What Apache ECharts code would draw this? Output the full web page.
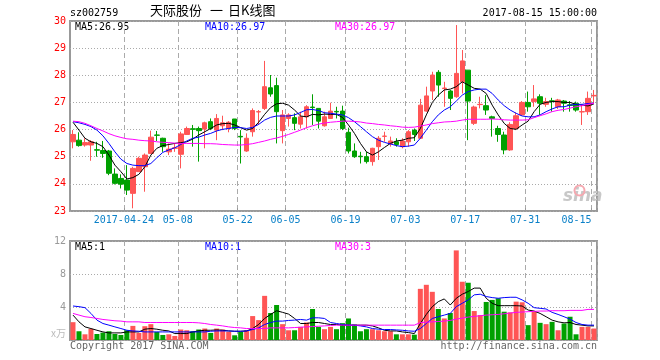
<!DOCTYPE html>
<html><head><meta charset="utf-8">
<script src="https://cdn.jsdelivr.net/npm/echarts@6/dist/echarts.min.js"></script>
<style>html,body{margin:0;padding:0;background:#fff}#c{width:660px;height:360px}</style>
</head><body><div id="c"></div>
<script>
const dates = ['2017-04-11','2017-04-12','2017-04-13','2017-04-14','2017-04-17','2017-04-18','2017-04-19','2017-04-20','2017-04-21','2017-04-24',
'2017-04-25','2017-04-26','2017-04-27','2017-04-28','2017-05-02','2017-05-03','2017-05-04','2017-05-05','2017-05-08','2017-05-09',
'2017-05-10','2017-05-11','2017-05-12','2017-05-15','2017-05-16','2017-05-17','2017-05-18','2017-05-19','2017-05-22','2017-05-23',
'2017-05-24','2017-05-25','2017-05-26','2017-05-31','2017-06-01','2017-06-02','2017-06-05','2017-06-06','2017-06-07','2017-06-08',
'2017-06-09','2017-06-12','2017-06-13','2017-06-14','2017-06-15','2017-06-16','2017-06-19','2017-06-20','2017-06-21','2017-06-22',
'2017-06-23','2017-06-26','2017-06-27','2017-06-28','2017-06-29','2017-06-30','2017-07-03','2017-07-04','2017-07-05','2017-07-06',
'2017-07-07','2017-07-10','2017-07-11','2017-07-12','2017-07-13','2017-07-14','2017-07-17','2017-07-18','2017-07-19','2017-07-20',
'2017-07-21','2017-07-24','2017-07-25','2017-07-26','2017-07-27','2017-07-28','2017-07-31','2017-08-01','2017-08-02','2017-08-03',
'2017-08-04','2017-08-07','2017-08-08','2017-08-09','2017-08-10','2017-08-11','2017-08-14','2017-08-15'];

const opens = [25.55,25.61,25.43,25.43,25.26,25.23,25.21,24.36,24.20,24.14,
23.65,24.45,24.63,25.12,25.80,25.68,25.18,25.31,25.09,25.82,
26.03,26.04,26.02,26.29,25.98,26.14,26.04,26.39,25.75,25.21,
25.92,26.65,26.78,27.54,27.62,25.96,26.41,26.44,26.20,26.47,
26.83,26.78,26.14,26.41,26.67,26.68,25.90,25.21,25.02,25.00,
24.82,25.37,25.75,25.49,25.55,25.37,25.55,25.98,25.68,26.68,
27.42,28.11,27.51,27.42,27.21,27.76,28.19,26.23,26.92,26.88,
26.47,26.04,25.80,25.25,26.04,26.54,27.00,27.03,27.21,26.93,
27.06,26.84,27.05,26.91,26.97,26.65,26.66,27.24];
const closes = [25.82,25.41,25.52,25.55,25.24,25.12,24.39,24.02,23.99,23.77,
24.57,24.94,25.06,25.72,25.79,25.37,25.28,25.33,25.84,26.04,
26.01,25.96,26.25,26.04,26.41,26.25,26.27,26.04,25.73,25.68,
26.70,26.66,27.58,27.31,26.66,26.54,26.54,26.23,26.47,26.84,
26.81,26.31,26.47,26.68,26.65,26.04,25.21,25.00,25.00,24.82,
25.31,25.68,25.76,25.58,25.45,25.58,25.92,25.82,26.90,27.24,
28.01,27.64,27.53,27.15,28.07,28.53,27.05,26.83,26.93,26.72,
26.41,25.82,25.25,26.19,26.51,27.00,26.84,27.13,26.97,27.03,
27.04,27.09,26.97,26.89,26.72,26.66,27.15,27.26];
const lows = [25.31,25.37,25.37,24.85,25.00,24.96,24.32,23.98,23.83,23.59,
23.10,24.45,23.71,25.12,25.58,25.18,25.06,25.18,24.57,25.80,
25.37,24.82,25.31,25.98,25.61,25.98,25.90,25.98,24.75,25.18,
25.74,26.17,26.72,27.21,25.49,25.49,26.11,25.98,26.04,26.04,
26.17,26.04,26.11,26.39,26.41,25.98,25.12,24.96,24.75,24.75,
24.67,24.88,25.55,25.37,25.37,25.31,25.37,25.58,25.65,26.66,
27.09,27.21,26.84,26.72,27.17,27.33,25.61,26.17,26.78,26.54,
25.74,25.55,25.09,25.22,25.98,26.51,26.66,26.84,26.54,26.84,
26.66,26.76,26.66,26.66,26.66,26.17,26.54,26.97];
const highs = [25.98,25.90,25.68,25.61,25.55,25.58,25.25,24.57,24.35,24.69,
24.63,25.00,25.12,25.96,25.95,25.70,25.49,25.49,25.92,26.11,
26.17,26.11,26.29,26.41,26.57,26.51,26.31,26.39,25.98,25.86,
26.78,26.72,28.53,28.01,27.91,26.72,26.60,26.60,26.66,26.90,
27.30,26.78,26.66,26.99,26.84,26.88,26.07,25.49,25.18,25.18,
25.33,25.76,25.92,25.74,25.68,25.68,25.98,26.04,27.13,27.58,
28.13,28.19,27.76,27.46,29.85,28.93,28.19,26.88,27.21,27.27,
26.51,26.14,25.92,26.27,26.63,27.05,27.40,27.64,27.30,27.17,
27.17,27.13,27.09,27.05,27.03,26.90,27.40,27.46];

const ma5 = [26.27,25.98,25.68,25.55,25.49,25.37,25.06,24.69,24.45,24.18,
24.23,24.35,24.63,25.06,25.31,25.41,25.45,25.49,25.52,25.55,
25.65,25.80,25.92,26.04,26.17,26.22,26.23,26.17,26.07,25.98,
26.04,26.27,26.56,26.81,26.95,26.97,26.90,26.72,26.50,26.47,
26.56,26.54,26.57,26.56,26.56,26.45,26.17,25.86,25.49,25.18,
25.06,25.18,25.34,25.49,25.58,25.61,25.68,25.70,26.04,26.54,
27.00,27.27,27.46,27.49,27.58,27.76,27.64,27.52,27.49,27.33,
26.90,26.54,26.23,26.04,26.01,26.17,26.31,26.66,26.93,27.00,
27.03,27.03,27.00,27.00,26.93,26.90,26.87,26.95];
const ma10 = [26.29,26.25,26.19,26.11,25.98,25.77,25.49,25.18,24.91,24.75,
24.69,24.67,24.67,24.75,24.96,25.16,25.25,25.33,25.45,25.58,
25.68,25.72,25.80,25.86,25.95,26.01,26.04,26.08,26.07,26.04,
26.08,26.19,26.35,26.45,26.50,26.50,26.50,26.54,26.63,26.73,
26.74,26.70,26.62,26.60,26.57,26.54,26.44,26.29,26.11,25.92,
25.74,25.61,25.53,25.47,25.41,25.37,25.39,25.43,25.68,25.98,
26.29,26.54,26.72,26.84,27.05,27.27,27.40,27.46,27.49,27.49,
27.33,27.09,26.88,26.72,26.60,26.50,26.47,26.47,26.54,26.66,
26.76,26.84,26.84,26.90,26.93,26.93,26.96,26.97];
const ma30 = [26.31,26.29,26.23,26.14,26.04,25.95,25.85,25.77,25.71,25.66,
25.64,25.61,25.59,25.58,25.55,25.53,25.52,25.50,25.49,25.49,
25.49,25.49,25.48,25.48,25.47,25.45,25.44,25.43,25.43,25.45,
25.48,25.53,25.58,25.64,25.69,25.75,25.82,25.90,25.98,26.07,
26.14,26.20,26.24,26.27,26.29,26.31,26.31,26.30,26.28,26.24,
26.22,26.19,26.17,26.14,26.12,26.09,26.08,26.09,26.13,26.17,
26.22,26.25,26.28,26.29,26.31,26.35,26.38,26.38,26.38,26.38,
26.39,26.38,26.36,26.35,26.35,26.35,26.36,26.44,26.51,26.58,
26.66,26.71,26.74,26.79,26.84,26.88,26.93,26.97];

const volumes = [2.16,1.06,0.69,1.35,0.73,0.90,1.06,0.73,0.61,1.18,
1.71,0.86,1.67,1.92,0.98,0.61,0.69,0.49,1.27,1.18,
1.06,1.27,1.39,0.86,1.39,1.27,0.98,0.57,0.98,1.18,
2.90,2.41,5.35,3.27,4.24,1.92,1.18,1.18,1.59,2.12,
3.76,1.59,1.31,1.59,1.31,2.04,2.61,1.88,1.06,1.31,
1.31,1.18,1.06,1.06,0.69,0.69,0.69,0.65,6.20,6.69,
5.84,3.76,2.61,3.27,10.86,7.06,6.94,3.51,3.02,4.61,
4.86,5.06,3.43,3.35,4.65,4.57,1.80,3.43,2.08,1.92,
2.20,1.18,2.00,2.82,0.69,1.59,1.59,1.39];
const volMa5 = [3.02,2.20,1.59,1.39,1.18,0.98,0.86,0.86,0.86,0.98,
0.98,0.98,1.31,1.39,1.31,1.18,1.10,0.78,0.78,0.78,
0.98,1.10,1.18,1.18,1.22,1.18,1.10,1.06,1.06,1.10,
1.39,1.88,2.61,3.10,3.55,3.35,3.14,2.61,2.00,2.00,
2.12,2.12,2.00,1.88,1.88,1.80,1.80,1.80,1.80,1.80,
1.71,1.47,1.18,1.10,1.10,0.98,0.90,0.78,2.00,3.10,
4.04,4.65,4.98,4.24,5.06,5.55,5.88,6.29,6.29,5.06,
4.45,4.16,4.16,4.16,4.16,4.12,3.63,3.51,3.22,2.82,
2.41,2.20,2.08,2.12,1.88,1.80,1.71,1.71];
const volMa10 = [4.12,4.04,3.92,3.22,2.41,2.00,1.80,1.59,1.39,1.18,
1.10,1.06,0.98,0.98,0.98,0.98,0.98,0.98,0.98,0.98,
0.98,0.98,0.98,1.06,1.10,1.10,1.10,1.06,1.06,1.10,
1.27,1.47,1.88,2.12,2.29,2.29,2.37,2.41,2.49,2.41,
2.69,2.69,2.61,2.12,2.00,1.88,1.80,1.80,1.71,1.59,
1.39,1.31,1.27,1.27,1.22,1.18,1.10,1.06,1.39,2.00,
2.61,2.82,3.02,3.22,4.04,4.45,4.86,5.47,5.55,5.27,
5.14,5.06,5.14,5.18,5.18,4.86,4.45,3.92,3.84,3.76,
3.35,3.10,2.82,2.53,2.12,1.88,1.80,1.80];
const volMa30 = [3.22,3.02,2.82,2.73,2.61,2.49,2.41,2.33,2.29,2.20,
2.20,2.20,2.12,2.12,2.12,2.12,2.12,2.12,2.12,2.12,
2.12,2.08,2.00,1.88,1.80,1.71,1.59,1.51,1.47,1.39,
1.39,1.39,1.39,1.47,1.47,1.47,1.47,1.51,1.55,1.59,
1.63,1.67,1.71,1.76,1.80,1.80,1.80,1.80,1.80,1.80,
1.80,1.80,1.80,1.80,1.80,1.80,1.80,1.80,2.12,2.16,
2.20,2.24,2.29,2.37,2.53,2.65,2.78,2.86,2.94,3.02,
3.06,3.10,3.18,3.27,3.35,3.39,3.43,3.47,3.51,3.51,
3.55,3.55,3.55,3.59,3.59,3.59,3.71,3.71];

const labelIdx = [9,18,28,36,46,56,66,76,87];
const priceTicks = {min:23, max:30, step:1};
const volTicks = {min:0, max:12, step:4};
const priceMaLabels = ['MA5:26.95','MA10:26.97','MA30:26.97'];
const volMaLabels = ['MA5:1','MA10:1','MA30:3'];
const stockCode = 'sz002759';
const titleParts = ['天际股份', '一', '日K线图'];
const timeText = '2017-08-15 15:00:00';

const UP = '#ff5555', DOWN = '#00a000';
const MONO = '"DejaVu Sans Mono", "Liberation Mono", monospace';
const CJK = '"Noto Sans CJK SC"';
const maColors = ['#000000', '#0000ff', '#ff00ff'];
const showIdx = i => labelIdx.indexOf(i) >= 0;

const chart = echarts.init(document.getElementById('c'), null, {renderer: 'canvas'});
const splitV = {show: true, interval: (i) => showIdx(i), lineStyle: {color: '#aaa', type: [5, 3], width: 1}};
const lineSeries = (name, data, color, xi, yi) => ({
  name, type: 'line', data, xAxisIndex: xi, yAxisIndex: yi, symbol: 'none', smooth: false,
  lineStyle: {color, width: 1}, itemStyle: {color}, z: 5, silent: true
});

const option = {
  animation: false,
  grid: [
    {left: 70, right: 63, top: 21, height: 190, show: true, borderColor: '#999', borderWidth: 2, backgroundColor: 'transparent'},
    {left: 70, right: 63, top: 241, height: 99, show: true, borderColor: '#999', borderWidth: 2, backgroundColor: 'transparent'}
  ],
  xAxis: [
    {type: 'category', gridIndex: 0, data: dates, boundaryGap: true,
     axisLine: {show: false},
     axisTick: {show: true, inside: true, length: 3, interval: (i) => showIdx(i), lineStyle: {color: '#999'}},
     axisLabel: {interval: (i) => showIdx(i),
       formatter: (v, i) => i === 9 ? v : (i === 87 ? '{last|' + v.slice(5) + '}' : v.slice(5)),
       color: '#0a80c8', fontFamily: MONO, fontSize: 10, margin: 4, padding: [0, 6, 0, 0],
       rich: {last: {padding: [0, 29, 0, 0], color: '#0a80c8', fontFamily: MONO, fontSize: 10}}},
     splitLine: splitV},
    {type: 'category', gridIndex: 1, data: dates, boundaryGap: true,
     axisLine: {show: false}, axisTick: {show: false}, axisLabel: {show: false}, splitLine: splitV}
  ],
  yAxis: [
    {type: 'value', gridIndex: 0, min: priceTicks.min, max: priceTicks.max, interval: priceTicks.step,
     axisLine: {show: false}, axisTick: {show: false},
     axisLabel: {color: '#ff0000', fontFamily: MONO, fontSize: 10, margin: 4},
     splitLine: {show: true, lineStyle: {color: '#aaa', type: [1, 2], width: 1}}},
    {type: 'value', gridIndex: 1, min: volTicks.min, max: volTicks.max, interval: volTicks.step,
     axisLine: {show: false}, axisTick: {show: false},
     axisLabel: {color: '#999', fontFamily: MONO, fontSize: 10, margin: 4, formatter: v => v === 0 ? '' : String(v)},
     splitLine: {show: true, lineStyle: {color: '#aaa', type: [1, 2], width: 1}}}
  ],
  series: [
    {type: 'candlestick', xAxisIndex: 0, yAxisIndex: 0, barWidth: 5,
     data: dates.map((d, i) => [opens[i], closes[i], lows[i], highs[i]]),
     itemStyle: {color: UP, color0: DOWN, borderColor: UP, borderColor0: DOWN, borderWidth: 1}, silent: true},
    lineSeries('MA5', ma5, maColors[0], 0, 0),
    lineSeries('MA10', ma10, maColors[1], 0, 0),
    lineSeries('MA30', ma30, maColors[2], 0, 0),
    {type: 'bar', xAxisIndex: 1, yAxisIndex: 1, barWidth: 5, silent: true,
     data: volumes.map((v, i) => ({value: v, itemStyle: {color: closes[i] >= opens[i] ? UP : DOWN}}))},
    lineSeries('VMA5', volMa5, maColors[0], 1, 1),
    lineSeries('VMA10', volMa10, maColors[1], 1, 1),
    lineSeries('VMA30', volMa30, maColors[2], 1, 1)
  ],
  graphic: [
    {type: 'text', left: 70, top: 8, style: {text: stockCode, font: '10px ' + MONO, fill: '#000'}},
    {type: 'text', left: 150, top: 4, style: {text: titleParts[0], font: '13px ' + CJK, fill: '#000'}},
    {type: 'text', left: 210, top: 4, style: {text: titleParts[1], font: '13px ' + CJK, fill: '#000'}},
    {type: 'text', left: 228, top: 4, style: {text: titleParts[2], font: '13px ' + CJK, fill: '#000'}},
    {type: 'text', right: 63, top: 8, style: {text: timeText, font: '10px ' + MONO, fill: '#000'}},
    {type: 'text', left: 75, top: 22, style: {text: priceMaLabels[0], font: '10px ' + MONO, fill: maColors[0]}},
    {type: 'text', left: 205, top: 22, style: {text: priceMaLabels[1], font: '10px ' + MONO, fill: maColors[1]}},
    {type: 'text', left: 335, top: 22, style: {text: priceMaLabels[2], font: '10px ' + MONO, fill: maColors[2]}},
    {type: 'text', left: 75, top: 242, style: {text: volMaLabels[0], font: '10px ' + MONO, fill: maColors[0]}},
    {type: 'text', left: 205, top: 242, style: {text: volMaLabels[1], font: '10px ' + MONO, fill: maColors[1]}},
    {type: 'text', left: 335, top: 242, style: {text: volMaLabels[2], font: '10px ' + MONO, fill: maColors[2]}},
    {type: 'text', right: 594, top: 328, style: {text: 'x万', font: '10px ' + CJK, fill: '#bbb'}},
    {type: 'text', left: 70, top: 341, style: {text: 'Copyright 2017 SINA.COM', font: '10px ' + MONO, fill: '#666'}},
    {type: 'text', right: 63, top: 341, style: {text: 'http://finance.sina.com.cn', font: '10px ' + MONO, fill: '#666'}},
    {type: 'text', left: 563, top: 188, z: 0, style: {text: 'sina', font: 'italic bold 17px "DejaVu Sans"', fill: '#c8c8c8'}},
    {type: 'circle', left: 572, top: 183, z: 0, shape: {r: 5}, style: {fill: 'none', stroke: '#f6a8b0', lineWidth: 2}}
  ]
};
chart.setOption(option);
</script>
</body></html>
